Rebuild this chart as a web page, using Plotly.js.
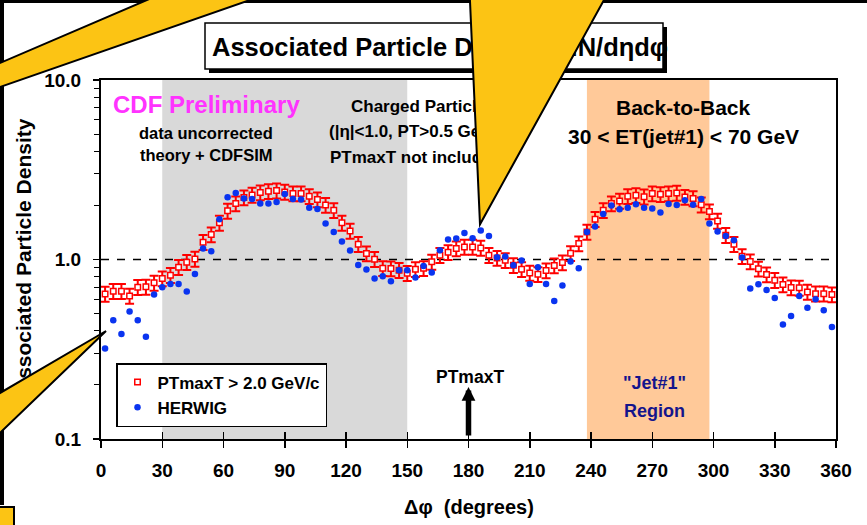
<!DOCTYPE html>
<html>
<head>
<meta charset="utf-8">
<script src="https://cdn.plot.ly/plotly-3.0.1.min.js"></script>
<style>html,body{margin:0;padding:0;background:#fff;}#chart{width:867px;height:525px;}</style>
</head>
<body>
<div id="chart"></div>
<script>
// ---- data ----
const phi = [2,6,10,14,18,22,26,30,34,38,42,46,50,54,58,62,66,70,74,78,82,86,90,94,98,102,106,110,114,118,122,126,130,134,138,142,146,150,154,158,162,166,170,174,178,182,186,190,194,198,202,206,210,214,218,222,226,230,234,238,242,246,250,254,258,262,266,270,274,278,282,286,290,294,298,302,306,310,314,318,322,326,330,334,338,342,346,350,354,358];
const ptmaxt = [0.643,0.666,0.666,0.627,0.701,0.704,0.741,0.784,0.818,0.906,0.966,1.008,1.249,1.378,1.60,1.866,2.05,2.215,2.29,2.36,2.40,2.42,2.38,2.33,2.33,2.25,2.16,2.01,1.88,1.60,1.443,1.217,1.080,1.004,0.894,0.89,0.872,0.839,0.883,0.894,0.97,1.057,1.098,1.152,1.175,1.175,1.16,1.057,1.02,0.99,0.929,0.883,0.842,0.828,0.868,0.926,0.962,1.084,1.228,1.425,1.677,1.88,2.05,2.12,2.25,2.28,2.24,2.33,2.31,2.33,2.35,2.23,2.19,2.02,1.85,1.64,1.366,1.217,1.043,0.975,0.888,0.825,0.767,0.726,0.698,0.695,0.66,0.645,0.645,0.638];
const herwig = [0.319,0.459,0.384,0.513,0.459,0.371,0.638,0.701,0.731,0.731,0.663,0.831,1.152,1.112,1.677,2.22,2.35,2.19,2.17,2.05,2.05,2.09,2.32,2.17,2.16,1.94,1.914,1.587,1.425,1.26,1.122,0.933,0.880,0.784,0.807,0.757,0.872,0.872,0.794,0.921,0.846,1.127,1.292,1.309,1.406,1.314,1.45,1.353,1.03,1.04,0.929,0.987,0.731,0.906,0.731,0.588,0.716,0.975,0.894,1.425,1.527,1.795,2.0,1.906,1.94,2.03,1.94,1.923,1.827,2.04,2.01,2.14,2.02,2.17,1.587,1.432,1.353,1.28,1.026,0.689,0.728,0.677,0.611,0.434,0.485,0.627,0.538,0.601,0.522,0.421];
const errPercent = 9.5;
const yTickVals = [0.1, 1, 10];
const yTickText = ['0.1', '1.0', '10.0'];
const yMinorVals = [0.2,0.3,0.4,0.5,0.6,0.7,0.8,0.9,2,3,4,5,6,7,8,9];
const grayRegion = [30, 150];
const jetRegion = [238, 298];
const refLine = 1;
const arrowAt = 180;

// ---- layout helpers (pixel -> paper) ----
const W = 867, H = 525, ML = 101, MR = 31, MT = 80, MB = 86;
const PW = W - ML - MR, PH = H - MT - MB;
const px = x => (x - ML) / PW;
const py = y => (H - MB - y) / PH;
const path = pts => 'M' + pts.map(p => px(p[0]).toFixed(5) + ',' + py(p[1]).toFixed(5)).join(' L') + ' Z';
const FONT = 'Arial, "Liberation Sans", sans-serif';
const YEL = '#fcc414';

function ann(text, x, y, size, color, xanchor) {
  return {text: text, xref: 'paper', yref: 'paper', x: px(x), y: py(y), showarrow: false,
    xanchor: xanchor || 'center', yanchor: 'middle',
    font: {family: FONT, size: size, weight: 'bold', color: color || '#000'}};
}

const traces = [
  {x: phi, y: ptmaxt, type: 'scatter', mode: 'markers', name: 'PTmaxT > 2.0 GeV/c',
   marker: {symbol: 'square', size: 5.5, color: '#ffffff', line: {color: '#ff0000', width: 1.5}},
   error_y: {type: 'percent', value: errPercent, color: '#ff0000', thickness: 2, width: 4.5}},
  {x: phi, y: herwig, type: 'scatter', mode: 'markers', name: 'HERWIG', xaxis: 'x2',
   marker: {symbol: 'circle', size: 6.5, color: '#0a34f0'}}
];

const tickFont = {family: FONT, size: 19, weight: 'bold', color: '#000'};

const layout = {
  width: W, height: H,
  margin: {l: ML, r: MR, t: MT, b: MB, pad: 0},
  paper_bgcolor: '#ffffff', plot_bgcolor: '#ffffff',
  showlegend: true,
  legend: {x: px(116), y: py(363), xanchor: 'left', yanchor: 'top',
    bgcolor: '#ffffff', bordercolor: '#000', borderwidth: 1.5,
    font: {family: FONT, size: 17, weight: 'bold', color: '#000'}},
  xaxis: {range: [0, 360], tickmode: 'linear', tick0: 0, dtick: 30,
    ticks: 'outside', ticklen: 7, tickwidth: 1.5, tickcolor: '#000',
    showline: true, linecolor: '#000', linewidth: 2, mirror: true,
    showgrid: false, zeroline: false, tickfont: tickFont, ticklabelstandoff: 6, fixedrange: true},
  xaxis2: {range: [0, 360], overlaying: 'x', anchor: 'y', side: 'bottom', tickmode: 'linear', tick0: 0, dtick: 30,
    ticks: 'inside', ticklen: 7, tickwidth: 1.5, tickcolor: '#000', showticklabels: false,
    showline: false, showgrid: false, zeroline: false, fixedrange: true},
  yaxis: {type: 'log', range: [-1, 1], tickmode: 'array', tickvals: yTickVals, ticktext: yTickText,
    ticks: 'outside', ticklen: 6, tickwidth: 1.5, tickcolor: '#000',
    minor: {tickmode: 'array', tickvals: yMinorVals, ticks: 'outside', ticklen: 5, tickwidth: 1, tickcolor: '#000', showgrid: false},
    showline: true, linecolor: '#000', linewidth: 2, mirror: true,
    showgrid: false, zeroline: false, tickfont: tickFont, ticklabelstandoff: 8, fixedrange: true},
  shapes: [
    {type: 'rect', xref: 'x', yref: 'paper', x0: grayRegion[0], x1: grayRegion[1], y0: 0, y1: 1,
     fillcolor: '#d9d9d9', line: {width: 0}, layer: 'below'},
    {type: 'rect', xref: 'x', yref: 'paper', x0: jetRegion[0], x1: jetRegion[1], y0: 0, y1: 1,
     fillcolor: '#ffc999', line: {width: 0}, layer: 'below'},
    {type: 'line', xref: 'paper', yref: 'y', x0: 0, x1: 1, y0: refLine, y1: refLine,
     line: {color: '#000', width: 1.5, dash: '8px,8px'}, layer: 'below'},
    // title box + shadow
    {type: 'rect', xref: 'paper', yref: 'paper', x0: px(209), x1: px(667), y0: py(73), y1: py(27),
     fillcolor: '#000', line: {width: 0}, layer: 'below'},
    {type: 'rect', xref: 'paper', yref: 'paper', x0: px(205), x1: px(663), y0: py(69), y1: py(23),
     fillcolor: '#fff', line: {color: '#000', width: 1.5}, layer: 'below'},
    // slide frame and callouts (moved above text after render)
    {type: 'rect', xref: 'paper', yref: 'paper', x0: px(-5), x1: px(4), y0: py(505), y1: py(-5),
     fillcolor: '#000', line: {width: 0}, layer: 'above'},
    {type: 'rect', xref: 'paper', yref: 'paper', x0: px(-5), x1: px(872), y0: py(3), y1: py(-5),
     fillcolor: '#000', line: {width: 0}, layer: 'above'},
    {type: 'path', xref: 'paper', yref: 'paper', path: path([[-20,71.6],[170.3,-10],[278.7,-10],[-20,94]]),
     fillcolor: YEL, line: {color: '#000', width: 2}, layer: 'above'},
    {type: 'path', xref: 'paper', yref: 'paper', path: path([[469.5,-10],[480,224.3],[609.5,-10]]),
     fillcolor: YEL, line: {color: '#000', width: 2}, layer: 'above'},
    {type: 'path', xref: 'paper', yref: 'paper', path: path([[106,331],[-20,404.7],[-20,452.2]]),
     fillcolor: YEL, line: {color: '#000', width: 2}, layer: 'above'},
    {type: 'rect', xref: 'paper', yref: 'paper', x0: px(-10), x1: px(14), y0: py(535), y1: py(507),
     fillcolor: YEL, line: {color: '#000', width: 2}, layer: 'above'}
  ],
  annotations: [
    ann('Associated Particle Density: dN/dηdφ', 210, 46.5, 25.5, '#000', 'left'),
    ann('CDF Preliminary', 206.5, 104, 24, '#ff33ff'),
    ann('data uncorrected', 205.7, 133, 16.5),
    ann('theory + CDFSIM', 205.5, 155, 16.5),
    ann('Charged Particles', 349.3, 107, 17, '#000', 'left'),
    ann('(|η|<1.0, PT>0.5 GeV/c)', 326.7, 131, 17, '#000', 'left'),
    ann('PTmaxT not included', 327.7, 157, 17, '#000', 'left'),
    ann('Back-to-Back', 683, 107.7, 21),
    ann('30 < ET(jet#1) < 70 GeV', 683.3, 136.7, 21),
    ann('PTmaxT', 470, 377.3, 17.5),
    ann('"Jet#1"', 654, 383.3, 18, '#14148c'),
    ann('Region', 654, 410.7, 18, '#14148c'),
    ann('Δφ\u00a0 (degrees)', 468.5, 507, 20),
    Object.assign(ann('Associated Particle Density', 23, 256, 21), {textangle: -90}),
    {text: '', xref: 'x', yref: 'paper', x: arrowAt, y: py(387), ax: 0, ay: 50,
     showarrow: true, arrowhead: 2, arrowsize: 0.5, arrowwidth: 5.5, arrowcolor: '#000'}
  ]
};

const gd = document.getElementById('chart');
Plotly.newPlot(gd, traces, layout, {displayModeBar: false, staticPlot: true}).then(() => {
  const svgs = gd.querySelectorAll('svg.main-svg');
  const above = gd.querySelector('.layer-above');
  if (above && svgs.length) svgs[svgs.length - 1].appendChild(above);
});
</script>
</body>
</html>
